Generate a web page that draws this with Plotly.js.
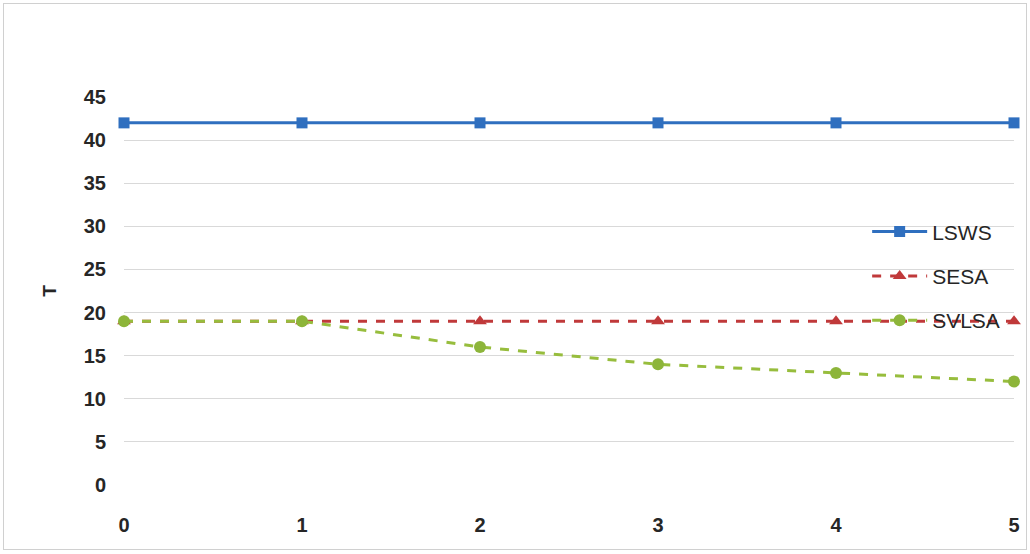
<!DOCTYPE html>
<html>
<head>
<meta charset="utf-8">
<script src="https://cdn.plot.ly/plotly-3.0.1.min.js"></script>
<style>
html,body{margin:0;padding:0;background:#fff;}
#wrap{position:relative;width:1030px;height:554px;}
#chart{width:1030px;height:554px;}
#frame{position:absolute;left:3px;top:3px;width:1022px;height:545px;border:1px solid #d0d0d0;pointer-events:none;}
</style>
</head>
<body>
<div id="wrap"><div id="chart"></div><div id="frame"></div></div>
<script>
const xValues = [0, 1, 2, 3, 4, 5];
const lswsValues = [42, 42, 42, 42, 42, 42];
const sesaValues = [19, 19, 19, 19, 19, 19];
const svlsaValues = [19, 19, 16, 14, 13, 12];
const yTicks = [0, 5, 10, 15, 20, 25, 30, 35, 40, 45];

const traces = [
  {x: xValues, y: lswsValues, name: 'LSWS', mode: 'lines+markers', legendgroup: 'a',
   line: {color: '#2f6fbf', width: 3}, marker: {symbol: 'square', size: 11, color: '#2f6fbf'}, cliponaxis: false},
  {x: xValues, y: sesaValues, name: 'SESA', mode: 'lines+markers', legendgroup: 'b',
   line: {color: '#c0393a', width: 3, dash: 'dash'}, marker: {symbol: 'triangle-up', size: 12, color: '#c0393a'}, cliponaxis: false},
  {x: xValues, y: svlsaValues, name: 'SVLSA', mode: 'lines+markers', legendgroup: 'c',
   line: {color: '#97bd3d', width: 3, dash: 'dash'}, marker: {symbol: 'circle', size: 12, color: '#8db53a'}, cliponaxis: false}
];

const layout = {
  width: 1030, height: 554,
  margin: {l: 124, r: 16, t: 97, b: 69},
  paper_bgcolor: '#fff', plot_bgcolor: '#fff',
  showlegend: true,
  legend: {x: 0.835, y: 0.705, xanchor: 'left', yanchor: 'top', bgcolor: 'rgba(0,0,0,0)',
    traceorder: 'grouped', tracegroupgap: 14, itemwidth: 55,
    font: {family: 'Liberation Sans, Arial, sans-serif', size: 21, color: '#262626'}},
  xaxis: {range: [0, 5], tickvals: xValues, showgrid: false, zeroline: false, showline: false,
    ticks: '', ticklabelstandoff: 26,
    tickfont: {family: 'Liberation Sans, Arial, sans-serif', size: 20, color: '#262626', weight: 'bold'}},
  yaxis: {range: [0, 45], tickvals: yTicks, showgrid: true, gridcolor: '#d9d9d9', gridwidth: 1,
    zeroline: false, showline: false, ticks: '', ticklabelstandoff: 17,
    tickfont: {family: 'Liberation Sans, Arial, sans-serif', size: 20, color: '#262626', weight: 'bold'},
    title: {text: 'T', standoff: 22, font: {family: 'Liberation Sans, Arial, sans-serif', size: 19, color: '#262626', weight: 'bold'}}}
};

Plotly.newPlot('chart', traces, layout, {displayModeBar: false, staticPlot: true});
</script>
</body>
</html>
